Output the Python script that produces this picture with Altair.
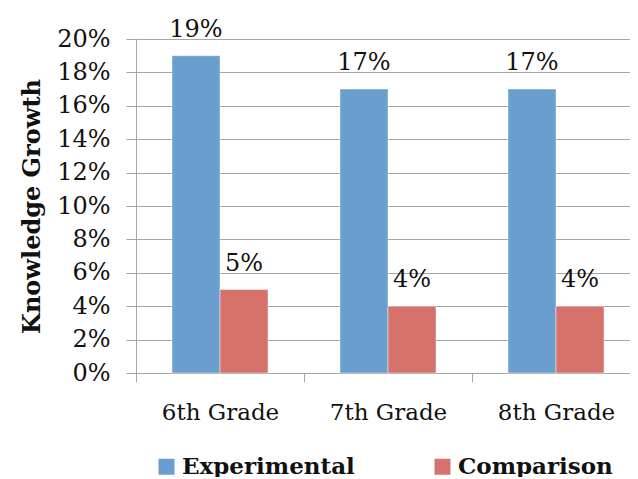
import altair as alt
import pandas as pd

grades = ["6th Grade", "7th Grade", "8th Grade"]
experimental = [19, 17, 17]
comparison = [5, 4, 4]
groups = ["Experimental", "Comparison"]
colors = ["#6A9ECE", "#D7716C"]
y_ticks = [0, 2, 4, 6, 8, 10, 12, 14, 16, 18, 20]

rows = []
for g, e, c in zip(grades, experimental, comparison):
    rows.append({"grade": g, "group": "Experimental", "pct": e})
    rows.append({"grade": g, "group": "Comparison", "pct": c})
df = pd.DataFrame(rows)

FONT = "DejaVu Serif"

base = alt.Chart(df).transform_calculate(
    val="datum.pct / 100", lab="datum.pct + '%'"
).encode(
    x=alt.X(
        "grade:N",
        sort=grades,
        title=None,
        scale=alt.Scale(paddingInner=0, paddingOuter=0, range=[0, 504]),
        axis=alt.Axis(
            labelAngle=0,
            labelFont=FONT,
            labelFontSize=23,
            labelColor="#111111",
            labelPadding=19,
            tickBand="extent",
            tickSize=9,
            tickColor="#A6A6A6",
            domainColor="#A6A6A6",
            grid=False,
        ),
    ),
    xOffset=alt.XOffset(
        "group:N", sort=groups, scale=alt.Scale(paddingInner=0, paddingOuter=0.75)
    ),
    y=alt.Y(
        "val:Q",
        title="Knowledge Growth",
        scale=alt.Scale(domain=[0, 0.2], nice=False),
        axis=alt.Axis(
            format=".0%",
            values=[v / 100 for v in y_ticks],
            labelOverlap=False,
            labelFont=FONT,
            labelFontSize=24,
            labelColor="#111111",
            labelPadding=16,
            tickSize=10,
            tickColor="#A6A6A6",
            domainColor="#A6A6A6",
            gridColor="#A6A6A6",
            titleFont=FONT,
            titleFontSize=24,
            titleFontWeight="bold",
            titleColor="#111111",
            titlePadding=12,
        ),
    ),
)

bars = base.mark_bar(stroke="white", strokeWidth=1, strokeOpacity=0.45).encode(
    color=alt.Color(
        "group:N",
        sort=groups,
        scale=alt.Scale(domain=groups, range=colors),
        legend=alt.Legend(
            title=None,
            orient="none",
            direction="horizontal",
            legendX=19,
            legendY=416,
            symbolType="square",
            symbolSize=256,
            symbolStrokeWidth=0,
            labelFont=FONT,
            labelFontSize=23,
            labelFontWeight="bold",
            labelColor="#111111",
            labelOffset=4,
            columnPadding=76,
            padding=0,
            labelLimit=400,
        ),
    ),
)

labels = base.mark_text(
    font=FONT, fontSize=24, color="#111111", baseline="alphabetic", dy=-19
).encode(text="lab:N")

chart = (
    alt.layer(bars, labels)
    .properties(
        width=494,
        height=334,
        autosize=alt.AutoSizeParams(type="none"),
        padding={"left": 128, "top": 31, "right": 0, "bottom": 104},
    )
    .configure_view(stroke=None)
)

chart.save("out.html", embed_options={"renderer": "svg", "actions": False})
